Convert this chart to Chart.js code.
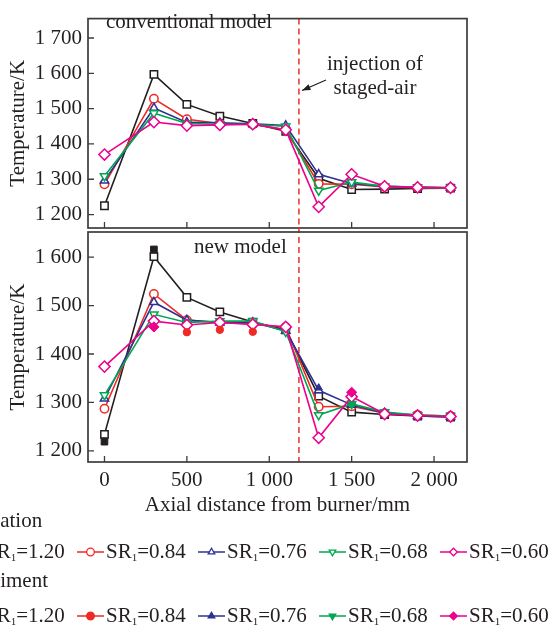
<!DOCTYPE html>
<html>
<head>
<meta charset="utf-8">
<script src="https://cdn.jsdelivr.net/npm/chart.js@4.4.1/dist/chart.umd.min.js"></script>
<style>
    html, body { margin:0; padding:0; background:#fff; }
    #Wrap { position:relative; width:552px; height:627px; overflow:hidden; }
    #Wrap canvas { position:absolute; left:0; top:0; }
</style>
</head>
<body>
<div id="Wrap">
    <canvas id="ConventionalChart" width="552" height="627"></canvas>
    <canvas id="NewModelChart" width="552" height="627"></canvas>
</div>
<script>
// axial positions of the measuring / sampling ports (mm)
const X_POSITIONS = [0, 300, 500, 700, 900, 1100, 1300, 1500, 1700, 1900, 2100];
const X_TICKS = [0, 500, 1000, 1500, 2000];
const STAGED_AIR_X = 1180;

const SR_LABELS = ['1.20', '0.84', '0.76', '0.68', '0.60'];

// conventional model, simulation (K)
const CONV_SR120 = [1225, 1597, 1512, 1479, 1458, 1436, 1303, 1271, 1272, 1274, 1275];
const CONV_SR084 = [1286, 1528, 1470, 1458, 1455, 1440, 1287, 1286, 1278, 1276, 1275];
const CONV_SR076 = [1296, 1502, 1461, 1460, 1457, 1452, 1314, 1288, 1280, 1278, 1276];
const CONV_SR068 = [1309, 1487, 1458, 1456, 1455, 1450, 1268, 1292, 1280, 1277, 1276];
const CONV_SR060 = [1370, 1462, 1452, 1454, 1456, 1440, 1222, 1314, 1280, 1277, 1276];

// new model, simulation (K)
const NEW_SR120 = [1234, 1601, 1517, 1487, 1466, 1450, 1313, 1280, 1275, 1272, 1270];
const NEW_SR084 = [1287, 1524, 1470, 1465, 1462, 1456, 1291, 1292, 1278, 1274, 1272];
const NEW_SR076 = [1308, 1507, 1470, 1465, 1465, 1448, 1325, 1295, 1278, 1272, 1270];
const NEW_SR068 = [1315, 1482, 1465, 1468, 1468, 1446, 1274, 1297, 1280, 1274, 1272];
const NEW_SR060 = [1374, 1468, 1460, 1465, 1461, 1456, 1227, 1312, 1276, 1273, 1271];

// experiment (K), null where nothing was measured
const EXP_SR120 = [1219, 1616, null, null, null, null, null, null, null, null, null];
const EXP_SR084 = [null, null, 1445, 1450, 1446, null, null, null, null, null, null];
const EXP_SR076 = [null, null, null, null, null, null, 1330, null, null, null, null];
const EXP_SR068 = [null, null, null, null, null, null, null, 1297, null, null, null];
const EXP_SR060 = [null, 1456, null, null, null, null, null, 1321, null, null, null];

const TOP_Y_TICKS = [1200, 1300, 1400, 1500, 1600, 1700];
const BOTTOM_Y_TICKS = [1200, 1300, 1400, 1500, 1600];

const TEXT_COLOR = '#231f20';
const FRAME_COLOR = '#3c3c3c';
const FONT_FAMILY = "'Liberation Serif', 'Times New Roman', serif";

const SERIES_STYLE = [
    {color:'#231f20', pointStyle:'rect', rotation:0, radius:5.2},
    {color:'#ee2a24', pointStyle:'circle', rotation:0, radius:4.2},
    {color:'#2e3192', pointStyle:'triangle', rotation:0, radius:4.8},
    {color:'#00a651', pointStyle:'triangle', rotation:180, radius:4.8},
    {color:'#ec008c', pointStyle:'rectRot', rotation:0, radius:5.6},
];

Chart.defaults.font.family = FONT_FAMILY;
Chart.defaults.font.size = 21;
Chart.defaults.color = TEXT_COLOR;

function formatThousands(v){
    return String(v).replace(/\B(?=(\d{3})+(?!\d))/g, ' ');
}

function toPoints(values){
    let pts = [];
    values.forEach((v, i) => {
        if (v !== null) pts.push({x: X_POSITIONS[i], y: v});
    });
    return pts;
}

function simDatasets(seriesList){
    return seriesList.map((values, i) => ({
        label: 'SR1=' + SR_LABELS[i],
        data: toPoints(values),
        borderColor: SERIES_STYLE[i].color,
        backgroundColor: '#ffffff',
        borderWidth: 1.6,
        pointStyle: SERIES_STYLE[i].pointStyle,
        pointRotation: SERIES_STYLE[i].rotation,
        pointRadius: SERIES_STYLE[i].radius,
        pointBorderWidth: 1.5,
        pointBackgroundColor: '#ffffff',
        tension: 0,
        order: 10 - i,
    }));
}

function expDatasets(seriesList){
    return seriesList.map((values, i) => ({
        label: 'Exp SR1=' + SR_LABELS[i],
        data: toPoints(values),
        borderColor: SERIES_STYLE[i].color,
        backgroundColor: SERIES_STYLE[i].color,
        showLine: false,
        pointStyle: SERIES_STYLE[i].pointStyle,
        pointRotation: SERIES_STYLE[i].rotation,
        pointRadius: SERIES_STYLE[i].radius - 0.5,
        pointBorderWidth: 1,
        pointBackgroundColor: SERIES_STYLE[i].color,
        order: 0,
    }));
}

function drawMarker(ctx, style, x, y, r, filled){
    ctx.beginPath();
    if (style.pointStyle === 'circle') {
        ctx.arc(x, y, r, 0, Math.PI * 2);
    } else if (style.pointStyle === 'rect') {
        let s = r * Math.SQRT1_2;
        ctx.rect(x - s, y - s, 2 * s, 2 * s);
    } else if (style.pointStyle === 'rectRot') {
        ctx.moveTo(x, y - r); ctx.lineTo(x + r, y); ctx.lineTo(x, y + r); ctx.lineTo(x - r, y);
        ctx.closePath();
    } else {
        let rad = style.rotation * Math.PI / 180;
        for (let k = 0; k < 3; k++) {
            let a = rad + k * 2 * Math.PI / 3;
            let px = x + Math.sin(a) * r, py = y - Math.cos(a) * r;
            if (k === 0) ctx.moveTo(px, py); else ctx.lineTo(px, py);
        }
        ctx.closePath();
    }
    ctx.fillStyle = filled ? style.color : '#ffffff';
    ctx.fill();
    ctx.strokeStyle = style.color;
    ctx.lineWidth = 1.3;
    ctx.stroke();
}

// ticks pointing inwards and the staged-air line, under the data
const panelFrame = {
    id: 'panelFrame',
    beforeDatasetsDraw(chart, args, opts){
        const {ctx, chartArea: a, scales} = chart;
        ctx.save();
        ctx.strokeStyle = FRAME_COLOR;
        ctx.lineWidth = 1.3;
        ctx.beginPath();
        X_TICKS.forEach(v => {
            let px = scales.x.getPixelForValue(v);
            ctx.moveTo(px, a.bottom); ctx.lineTo(px, a.bottom - 6);
        });
        scales.y.ticks.forEach(t => {
            let py = scales.y.getPixelForValue(t.value);
            ctx.moveTo(a.left, py); ctx.lineTo(a.left + 6, py);
        });
        ctx.stroke();

        let sx = scales.x.getPixelForValue(STAGED_AIR_X);
        ctx.strokeStyle = '#e8302a';
        ctx.lineWidth = 1.5;
        ctx.setLineDash([6, 4]);
        ctx.beginPath();
        ctx.moveTo(sx, a.top - opts.extendUp);
        ctx.lineTo(sx, a.bottom);
        ctx.stroke();
        ctx.restore();
    },
    afterDraw(chart){
        const {ctx, chartArea: a} = chart;
        ctx.save();
        ctx.strokeStyle = FRAME_COLOR;
        ctx.lineWidth = 1.7;
        ctx.strokeRect(a.left, a.top, a.right - a.left, a.bottom - a.top);
        ctx.restore();
    }
};

const panelText = {
    id: 'panelText',
    afterDraw(chart, args, opts){
        const ctx = chart.ctx;
        ctx.save();
        ctx.fillStyle = TEXT_COLOR;
        ctx.font = '21px ' + FONT_FAMILY;
        ctx.textBaseline = 'alphabetic';
        (opts.items || []).forEach(t => {
            ctx.textAlign = t.align || 'left';
            ctx.fillText(t.text, t.x, t.y);
        });
        if (opts.arrow) {
            const ar = opts.arrow;
            ctx.strokeStyle = TEXT_COLOR;
            ctx.lineWidth = 1.3;
            ctx.beginPath();
            ctx.moveTo(ar.x1, ar.y1); ctx.lineTo(ar.x2, ar.y2);
            ctx.stroke();
            let ang = Math.atan2(ar.y2 - ar.y1, ar.x2 - ar.x1);
            ctx.beginPath();
            ctx.moveTo(ar.x2, ar.y2);
            ctx.lineTo(ar.x2 - 9 * Math.cos(ang - 0.35), ar.y2 - 9 * Math.sin(ang - 0.35));
            ctx.lineTo(ar.x2 - 9 * Math.cos(ang + 0.35), ar.y2 - 9 * Math.sin(ang + 0.35));
            ctx.closePath();
            ctx.fillStyle = TEXT_COLOR;
            ctx.fill();
        }
        ctx.restore();
    }
};

// two-group legend under the lower panel (runs off the left edge like the source)
const groupLegend = {
    id: 'groupLegend',
    afterDraw(chart){
        const ctx = chart.ctx;
        const groups = [
            {title:'Simulation', filled:false, titleY:527, rowY:558},
            {title:'Experiment', filled:true, titleY:587, rowY:622},
        ];
        ctx.save();
        ctx.fillStyle = TEXT_COLOR;
        ctx.textAlign = 'left';
        ctx.textBaseline = 'alphabetic';
        groups.forEach(g => {
            ctx.font = '21px ' + FONT_FAMILY;
            ctx.fillStyle = TEXT_COLOR;
            ctx.fillText(g.title, -50, g.titleY);
            SR_LABELS.forEach((lab, i) => {
                let x0 = -44 + 121 * i;
                let midY = g.rowY - 6;
                let st = SERIES_STYLE[i];
                ctx.strokeStyle = st.color;
                ctx.lineWidth = 1.5;
                ctx.beginPath();
                ctx.moveTo(x0, midY); ctx.lineTo(x0 + 27, midY);
                ctx.stroke();
                drawMarker(ctx, st, x0 + 13.5, midY, 3.8, g.filled);
                ctx.fillStyle = TEXT_COLOR;
                let tx = x0 + 29;
                ctx.font = '21px ' + FONT_FAMILY;
                ctx.fillText('SR', tx, g.rowY);
                tx += ctx.measureText('SR').width;
                ctx.font = '11px ' + FONT_FAMILY;
                ctx.fillText('1', tx, g.rowY + 3);
                tx += ctx.measureText('1').width;
                ctx.font = '21px ' + FONT_FAMILY;
                ctx.fillText('=' + lab, tx, g.rowY);
            });
        });
        ctx.restore();
    }
};

function yScale(min, max, ticks){
    return {
        type: 'linear',
        min: min,
        max: max,
        afterBuildTicks: s => { s.ticks = ticks.map(v => ({value: v})); },
        afterFit: s => { s.width = 88; },
        grid: { display: false, drawTicks: false },
        border: { display: false },
        ticks: {
            padding: 6,
            color: TEXT_COLOR,
            font: { size: 21 },
            callback: v => formatThousands(v),
        },
        title: {
            display: true,
            text: 'Temperature/K',
            color: TEXT_COLOR,
            font: { size: 21 },
            padding: { top: 6, bottom: 0 },
        },
    };
}

window.onload = function(){

    let ctxTop = document.getElementById('ConventionalChart').getContext('2d');
    window.ConvChart = new Chart(ctxTop, {
        type: 'line',
        data: { datasets: simDatasets([CONV_SR120, CONV_SR084, CONV_SR076, CONV_SR068, CONV_SR060]) },
        options: {
            responsive: false,
            animation: false,
            layout: { padding: { left: 0, right: 85, top: 7, bottom: 399 } },
            plugins: {
                legend: { display: false },
                tooltip: { enabled: false },
                panelFrame: { extendUp: 0 },
                panelText: {
                    items: [
                        {text:'conventional model', x:106, y:28},
                        {text:'injection of', x:375, y:70, align:'center'},
                        {text:'staged-air', x:375, y:94, align:'center'},
                    ],
                    arrow: {x1:326, y1:80, x2:302, y2:90.5},
                },
            },
            scales: {
                x: {
                    type: 'linear', min: -100, max: 2200,
                    afterFit: s => { s.height = 0; },
                    grid: { display: false, drawTicks: false },
                    border: { display: false },
                    ticks: { display: false },
                },
                y: yScale(1162, 1755, TOP_Y_TICKS),
            },
        },
        plugins: [panelFrame, panelText],
    });

    let ctxBottom = document.getElementById('NewModelChart').getContext('2d');
    window.NewChart = new Chart(ctxBottom, {
        type: 'line',
        data: {
            datasets: simDatasets([NEW_SR120, NEW_SR084, NEW_SR076, NEW_SR068, NEW_SR060])
                .concat(expDatasets([EXP_SR120, EXP_SR084, EXP_SR076, EXP_SR068, EXP_SR060]))
        },
        options: {
            responsive: false,
            animation: false,
            layout: { padding: { left: 0, right: 85, top: 232, bottom: 105 } },
            plugins: {
                legend: { display: false },
                tooltip: { enabled: false },
                panelFrame: { extendUp: 5 },
                panelText: { items: [ {text:'new model', x:194, y:253} ] },
            },
            scales: {
                x: {
                    type: 'linear', min: -100, max: 2200,
                    afterBuildTicks: s => { s.ticks = X_TICKS.map(v => ({value: v})); },
                    afterFit: s => { s.height = 60; },
                    grid: { display: false, drawTicks: false },
                    border: { display: false },
                    ticks: {
                        padding: 6,
                        maxRotation: 0,
                        color: TEXT_COLOR,
                        font: { size: 21 },
                        callback: v => formatThousands(v),
                    },
                    title: {
                        display: true,
                        text: 'Axial distance from burner/mm',
                        color: TEXT_COLOR,
                        font: { size: 21 },
                        padding: { top: 0, bottom: 4 },
                    },
                },
                y: yScale(1177, 1652, BOTTOM_Y_TICKS),
            },
        },
        plugins: [panelFrame, panelText, groupLegend],
    });
};
</script>
</body>
</html>
